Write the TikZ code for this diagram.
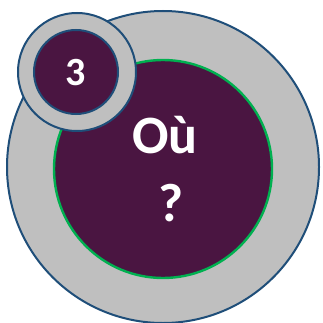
\documentclass[tikz,border=0pt]{standalone}
\usepackage{fontspec}
\setmainfont{Carlito}
\usepackage{tikz}
\usepackage{xcolor}

\definecolor{ringgray}{HTML}{BFBFBF}
\definecolor{rimblue}{HTML}{1F4E79}
\definecolor{plum}{HTML}{4A1541}
\definecolor{rimgreen}{HTML}{00B050}

\begin{document}
\begin{tikzpicture}[x=1pt, y=-1pt]
        % Circle style definitions
        \tikzset{
            ring/.style={circle, fill=ringgray, draw=rimblue, line width=2pt, inner sep=0pt},
            core/.style={circle, fill=plum, line width=2.4pt, inner sep=0pt},
            label/.style={text=white, font=\bfseries}
        }
        \useasboundingbox (0,0) rectangle (322,323);

        % ==========================================
        % BIG DISC
        % ==========================================

        \node[ring, minimum size=312pt] (outer) at (163,167) {};
        \node[core, draw=rimgreen, minimum size=218pt] (inner) at (163,169) {};
        \node[label, align=center, font=\bfseries\fontsize{54}{68}\selectfont] (where) at (165,169) {Où\\~?};

        % ==========================================
        % SMALL BADGE (top left)
        % ==========================================

        \node[ring, minimum size=118pt] (badge) at (77,72) {};
        \node[core, draw=rimblue, line width=2pt, minimum size=84pt] (badgecore) at (76,72) {};
        \node[label, font=\bfseries\fontsize{40}{44}\selectfont] (num) at (76,73) {3};
    \end{tikzpicture}
\end{document}
